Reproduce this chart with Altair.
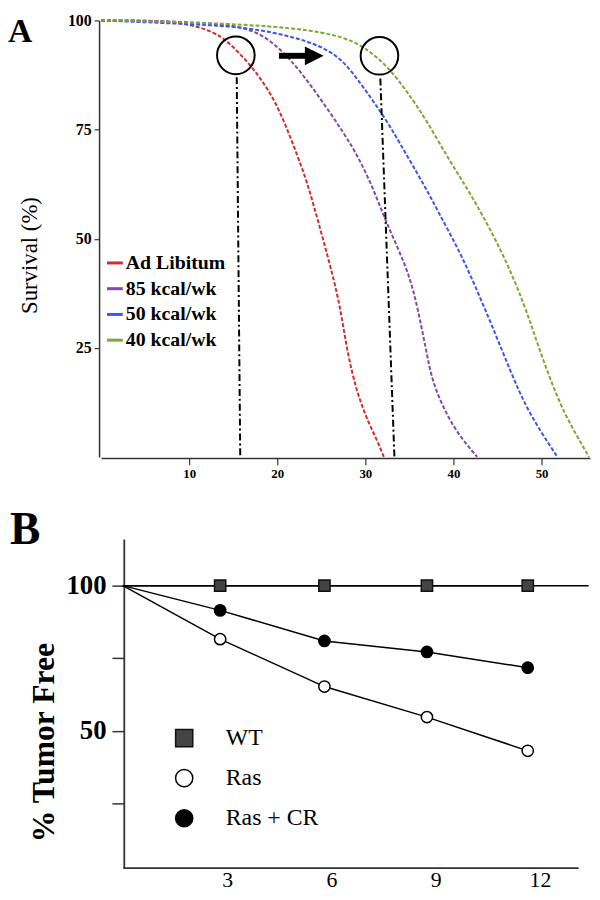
import altair as alt
import pandas as pd

SERIF = "Liberation Serif"
W, H = 590, 890

# ---------------- Panel A: survival curves ----------------
series_a = ["Ad Libitum", "85 kcal/wk", "50 kcal/wk", "40 kcal/wk"]
colors_a = ["#d42a2a", "#8048b0", "#3a55f0", "#7aa832"]

al_x = [0, 5, 9.6, 12.9, 14.5, 16.6, 18.2, 19.7, 21, 22.2, 23.3, 24.2, 25.1, 26.0, 27.1, 27.9, 29.0, 30.4, 31.3, 32.1]
al_y = [100, 100, 99.5, 97.3, 95, 90.6, 86.5, 81.7, 75.8, 69.5, 63.5, 57.2, 50.6, 43.9, 35, 24.5, 14.9, 7.6, 4, 0]
k85_x = [0, 5, 10, 15.5, 18.5, 21.5, 24.5, 27.5, 29.3, 31, 32.4, 34.6, 35.7, 36.9, 37.6, 39.4, 41, 42.7]
k85_y = [100, 100, 99.6, 98.9, 96.7, 91.3, 83.3, 74.4, 68.4, 61, 53.5, 43.9, 36.5, 24.5, 17, 8.9, 4, 0]
k50_x = [0, 11, 16.6, 22.2, 26.7, 29, 32.4, 34.9, 36.9, 38.3, 40.6, 42.5, 44.5, 46.5, 48.1, 50, 51.8]
k50_y = [100, 99.1, 98.4, 96.2, 92.7, 86.9, 77.3, 68.4, 61.5, 56, 47.5, 39, 29.5, 19.5, 12, 5.5, 0]
k40_x = [0, 11, 22.2, 27.9, 30.5, 32.7, 34.8, 36.9, 39.4, 41, 42.5, 45.5, 48.1, 49.6, 51.8, 53.5, 55.4]
k40_y = [100, 99.6, 98.4, 96.2, 93, 89.1, 83.5, 77.3, 68.4, 63.3, 58.3, 47.2, 34.8, 25.4, 13.4, 6.5, 0]

# annotations of panel A (data units)
circle_x = [15.3, 31.6]
circle_y = [92.0, 91.9]
guide_x_top = [15.4, 31.7]
guide_y_top = [87.0, 86.7]
guide_x_bot = [15.8, 33.3]
guide_y_bot = [0, 0]
arrow_x0 = [20.2]
arrow_x1 = [23.3]
arrow_y = [91.9]
arrow_head_x = [24.2]

# ---------------- Panel B: tumor free ----------------
groups_b = ["WT", "Ras", "Ras + CR"]
months = [0, 2.8, 5.8, 8.75, 11.65]
wt = [100, 100, 100, 100, 100]
ras = [100, 81.6, 65.3, 54.8, 43.2]
ras_cr = [100, 91.5, 81.0, 77.2, 71.8]
wt_ref_end = [13.4]

# ---------------- tables ----------------
rows = []
for name, xs, ys in zip(series_a, [al_x, k85_x, k50_x, k40_x], [al_y, k85_y, k50_y, k40_y]):
    for i, (x, y) in enumerate(zip(xs, ys)):
        rows.append({"wk": x, "surv": y, "diet": name, "i": i})
dfA = pd.DataFrame(rows)
dfCirc = pd.DataFrame({"wk": circle_x, "surv": circle_y})
dfGuide = pd.DataFrame({"wk": guide_x_top, "surv": guide_y_top, "wk2": guide_x_bot, "surv2": guide_y_bot})
dfArrow = pd.DataFrame({"wk": arrow_x0, "wk2": arrow_x1, "surv": arrow_y})
dfHead = pd.DataFrame({"wk": arrow_head_x, "surv": arrow_y})

rowsB = []
for name, ys in zip(groups_b, [wt, ras, ras_cr]):
    for x, y in zip(months, ys):
        rowsB.append({"mo": x, "free": y, "grp": name})
dfB = pd.DataFrame(rowsB)
dfBpts = dfB[dfB["mo"] > 0]
dfWT = pd.DataFrame({"mo": [0], "mo2": wt_ref_end, "free": [100]})

# ---------------- scales (explicit pixel ranges) ----------------
xa = alt.Scale(domain=[0, 55.5], range=[94, 588], nice=False, zero=False)
ya = alt.Scale(domain=[0, 100], range=[449, 8], nice=False)
xb = alt.Scale(domain=[0, 13.1], range=[116, 576], nice=False, zero=False)
yb = alt.Scale(domain=[3, 116], range=[864, 532], nice=False, zero=False)

common_axis = dict(grid=False, labelFont=SERIF, labelColor="black", labelOverlap=False,
                   domainColor="#333", tickColor="#333", labelFlush=False)

ax_xa = alt.Axis(orient="bottom", offset=-440, values=[10, 20, 30, 40, 50], title="",
                 labelFontSize=13, labelFontWeight="bold", tickSize=7, tickWidth=1.2,
                 domainWidth=1.5, labelPadding=3, **common_axis)
ax_ya = alt.Axis(orient="left", offset=-92, values=[25, 50, 75, 100], title="Survival (%)",
                 labelFontSize=16, labelFontWeight="bold", tickSize=5, tickWidth=1.2,
                 domainWidth=1.5, labelPadding=3,
                 titleFont=SERIF, titleFontSize=23, titleFontWeight="normal", titleColor="black",
                 titleAngle=270, titleBaseline="middle", titleAlign="center", titleX=-70, titleY=245,
                 **common_axis)
ax_xb = alt.Axis(orient="bottom", offset=-26, values=[3, 6, 9, 12], title="",
                 labelFontSize=22, labelFontWeight="normal", ticks=False,
                 domainWidth=1.8, labelPadding=2, **common_axis)
ax_yb = alt.Axis(orient="left", offset=-117, values=[25, 50, 75, 100], title="% Tumor Free",
                 labelExpr="datum.value % 50 == 0 ? datum.label : ''",
                 labelFontSize=27, labelFontWeight="bold", tickSize=12, tickWidth=1.5,
                 domainWidth=1.8, labelPadding=6,
                 titleFont=SERIF, titleFontSize=32, titleFontWeight="bold", titleColor="black",
                 titleAngle=270, titleBaseline="middle", titleAlign="center", titleX=-81, titleY=737,
                 **common_axis)

# ---------------- panel A layers ----------------
curves = alt.Chart(dfA).mark_line(strokeDash=[4, 2], strokeWidth=2, interpolate="basis").encode(
    x=alt.X("wk:Q", scale=xa, axis=ax_xa),
    y=alt.Y("surv:Q", scale=ya, axis=ax_ya),
    color=alt.Color("diet:N", scale=alt.Scale(domain=series_a, range=colors_a),
                    legend=alt.Legend(orient="none", legendX=98, legendY=243, title="",
                                      symbolType="stroke", symbolSize=256, symbolStrokeWidth=3,
                                      symbolDash=[20, 0],
                                      labelFont=SERIF, labelFontSize=20, labelFontWeight="bold",
                                      labelColor="black", labelOffset=1, rowPadding=6, padding=0)),
    order="i:Q",
)
guides = alt.Chart(dfGuide).mark_rule(color="black", strokeWidth=2, strokeDash=[7, 3, 2, 3]).encode(
    x=alt.X("wk:Q", scale=xa), y=alt.Y("surv:Q", scale=ya), x2="wk2:Q", y2="surv2:Q")
circles = alt.Chart(dfCirc).mark_point(shape="circle", size=1444, color="black", strokeWidth=2,
                                        filled=False, opacity=1).encode(
    x=alt.X("wk:Q", scale=xa), y=alt.Y("surv:Q", scale=ya))
shaft = alt.Chart(dfArrow).mark_rule(color="black", strokeWidth=6).encode(
    x=alt.X("wk:Q", scale=xa), x2="wk2:Q", y=alt.Y("surv:Q", scale=ya))
head = alt.Chart(dfHead).mark_point(shape="M-1,-1L1,0L-1,1Z", size=360, filled=True,
                                     color="black", opacity=1).encode(
    x=alt.X("wk:Q", scale=xa), y=alt.Y("surv:Q", scale=ya))
labelA = alt.Chart(pd.DataFrame({"t": ["A"]})).mark_text(
    align="left", baseline="alphabetic", font=SERIF, fontSize=34, fontWeight="bold", color="black"
).encode(x=alt.value(0), y=alt.value(30), text="t:N")

panelA = alt.layer(curves, guides, circles, shaft, head, labelA)

# ---------------- panel B layers ----------------
legB = alt.Legend(orient="none", legendX=166, legendY=721, title="",
                  symbolSize=300, symbolStrokeWidth=1.5,
                  labelFont=SERIF, labelFontSize=24, labelColor="black",
                  labelOffset=30, rowPadding=16.5, padding=0)

lines_b = alt.Chart(dfB).mark_line(color="black", strokeWidth=1.5).encode(
    x=alt.X("mo:Q", scale=xb, axis=ax_xb),
    y=alt.Y("free:Q", scale=yb, axis=ax_yb),
    detail="grp:N",
)
wt_rule = alt.Chart(dfWT).mark_rule(color="black", strokeWidth=1.5).encode(
    x=alt.X("mo:Q", scale=xb), x2="mo2:Q", y=alt.Y("free:Q", scale=yb))
pts_b = alt.Chart(dfBpts).mark_point(filled=True, size=130, strokeWidth=1.5, opacity=1).encode(
    x=alt.X("mo:Q", scale=xb),
    y=alt.Y("free:Q", scale=yb),
    shape=alt.Shape("grp:N", scale=alt.Scale(domain=groups_b, range=["square", "circle", "circle"]),
                    legend=legB),
    fill=alt.Fill("grp:N", scale=alt.Scale(domain=groups_b, range=["#444444", "white", "black"]),
                  legend=legB),
    stroke=alt.Stroke("grp:N", scale=alt.Scale(domain=groups_b, range=["#111111", "black", "black"]),
                      legend=legB),
)
labelB = alt.Chart(pd.DataFrame({"t": ["B"]})).mark_text(
    align="left", baseline="alphabetic", font=SERIF, fontSize=46, fontWeight="bold", color="black"
).encode(x=alt.value(2), y=alt.value(537), text="t:N")

panelB = alt.layer(lines_b, wt_rule, pts_b, labelB)

chart = alt.layer(panelA, panelB).resolve_scale(
    x="independent", y="independent", color="independent", fill="independent",
    shape="independent", stroke="independent"
).properties(
    width=W, height=H, padding=0, autosize=alt.AutoSizeParams(type="none")
).configure_view(strokeWidth=0)

chart.save("out.html", embed_options={"renderer": "svg", "actions": False})
